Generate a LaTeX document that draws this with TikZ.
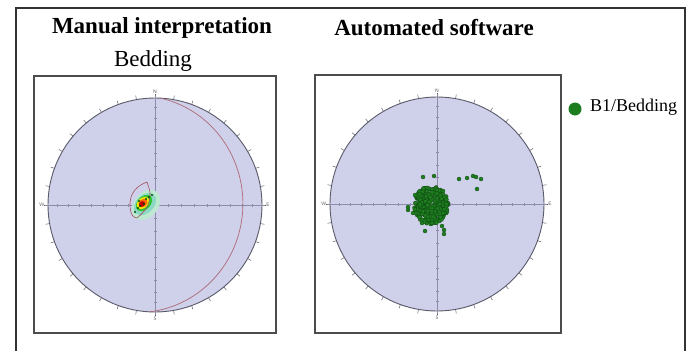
\documentclass[tikz,border=0pt]{standalone}
\usepackage{fontspec}
\setmainfont{Liberation Serif}
\usepackage{tikz}
\usetikzlibrary{calc}

\definecolor{netfill}{HTML}{CFD0EA}
\definecolor{netline}{HTML}{5A5A6A}
\definecolor{axisgray}{HTML}{8C8CAA}
\definecolor{gcircle}{HTML}{A0505C}
\definecolor{poleg}{HTML}{1E7D1E}
\definecolor{poled}{HTML}{0F4A14}

\tikzset{
  frame/.style={draw=black!80, line width=1.4pt},
  netbox/.style={draw=black!70, line width=1.3pt},
  net/.style={draw=netline, fill=netfill, line width=0.9pt},
  netaxis/.style={draw=axisgray, line width=0.5pt},
  nettick/.style={draw=netline, line width=0.5pt},
  netlabel/.style={font=\sffamily\fontsize{5}{5}\selectfont, text=black!65, inner sep=0pt},
  title/.style={font=\fontsize{23}{26}\selectfont\bfseries, inner sep=0pt},
  pole/.style={fill=poleg, draw=poled, line width=0.3pt},
}

\begin{document}
\begin{tikzpicture}[x=1pt, y=-1pt]
\useasboundingbox (0,0) rectangle (692,351);

% Outer frame, open at the bottom
\draw[frame] (16,351) -- (16,8) -- (685,8) -- (685,351);

% Headings
\node[title] (manual) at (162,28) {Manual interpretation};
\node[title] (auto) at (434,28) {Automated software};
\node[font=\fontsize{23}{26}\selectfont, inner sep=0pt] (bedding) at (153,61) {Bedding};

% Plot boxes
\draw[netbox] (34,76) rectangle (276,333);
\draw[netbox] (315,75) rectangle (561,333);

% Stereonets (equal area, lower hemisphere)
\foreach \cx/\cy/\nm in {155/205/man, 437/204/auto} {
  \draw[net] (\cx,\cy) circle (107);
  % ticks round the primitive
  \foreach \a in {0,10,...,350}
    \draw[nettick] ($(\cx,\cy)+(\a:107)$) -- ($(\cx,\cy)+(\a:111)$);
  % N-S and W-E axes
  \draw[netaxis] (\cx,\cy-110) -- (\cx,\cy+110);
  \draw[netaxis] (\cx-110,\cy) -- (\cx+110,\cy);
  \foreach \p in {10,20,...,80} {
    \pgfmathsetmacro{\r}{107*sqrt(1-sin(\p))}
    \draw[netaxis] (\cx-1.5,\cy-\r) -- (\cx+1.5,\cy-\r);
    \draw[netaxis] (\cx-1.5,\cy+\r) -- (\cx+1.5,\cy+\r);
    \draw[netaxis] (\cx-\r,\cy-1.5) -- (\cx-\r,\cy+1.5);
    \draw[netaxis] (\cx+\r,\cy-1.5) -- (\cx+\r,\cy+1.5);
  }
  \node[netlabel] (\nm-N) at (\cx,\cy-113) {N};
  \node[netlabel] (\nm-S) at (\cx,\cy+114) {S};
  \node[netlabel] (\nm-W) at (\cx-113,\cy) {W};
  \node[netlabel] (\nm-E) at (\cx+113,\cy) {E};
}

% Mean bedding plane as a great circle
\draw[gcircle!85, line width=0.7pt, smooth] plot[domain=0:180, samples=90, variable=\t]
  ({155+107*(0.0523*cos(\t)+0.9442*sin(\t))/sqrt(1+0.3256*sin(\t))},
   {205-107*(0.9986*cos(\t)-0.0495*sin(\t))/sqrt(1+0.3256*sin(\t))});

% Pole density contours
\fill[cyan!30!green!25!white, rotate around={50:(146,205)}] (146,205) ellipse [x radius=17, y radius=12];
\fill[cyan!45!green!45, rotate around={45:(145,204)}] (145,204) ellipse [x radius=13, y radius=9];
\fill[green!70!black!80, rotate around={45:(144,203)}] (144,203) ellipse [x radius=9.5, y radius=6.5];
\fill[yellow!90!orange, rotate around={40:(143,203)}] (143,203) ellipse [x radius=7, y radius=5];
\fill[orange!85!red, rotate around={40:(143,203)}] (143,203) ellipse [x radius=5, y radius=3.8];
\fill[red!75!black, rotate around={40:(142,204)}] (142,204) ellipse [x radius=3.2, y radius=2.6];
\draw[gcircle, line width=0.6pt] (147,182) to[out=200,in=90] (130,204)
  to[out=-90,in=180] (137,218) to[out=40,in=-95] (150,196) to[out=85,in=-75] (147,182);
\foreach \px/\py in {135/212, 138/208, 140/206, 146/199, 149/197, 152/195, 139/201, 144/204}
  \fill[black!70!green] (\px,\py) circle (1.1);

% Poles picked by the software
\pgfmathsetseed{42}
\foreach \i in {1,...,320} {
  \pgfmathsetmacro{\ang}{360*rnd}
  \pgfmathsetmacro{\rad}{sqrt(rnd)}
  \filldraw[pole] ({431+17*\rad*cos(\ang)},{205+19*\rad*sin(\ang)}) circle (2);
}
\foreach \px/\py in {423/177, 434/176, 459/179, 467/178, 473/176, 476/177, 481/179,
    477/189, 408/207, 408/210, 413/213, 416/213, 425/231, 444/230, 444/234, 442/226,
    432/223, 422/223, 415/195, 443/191}
  \filldraw[pole] (\px,\py) circle (2);

% Legend
\fill[poleg] (575,109) circle (6.5);
\node[font=\fontsize{18}{20}\selectfont, anchor=west, inner sep=0pt] (legend) at (590,107) {B1/Bedding};
\end{tikzpicture}
\end{document}
